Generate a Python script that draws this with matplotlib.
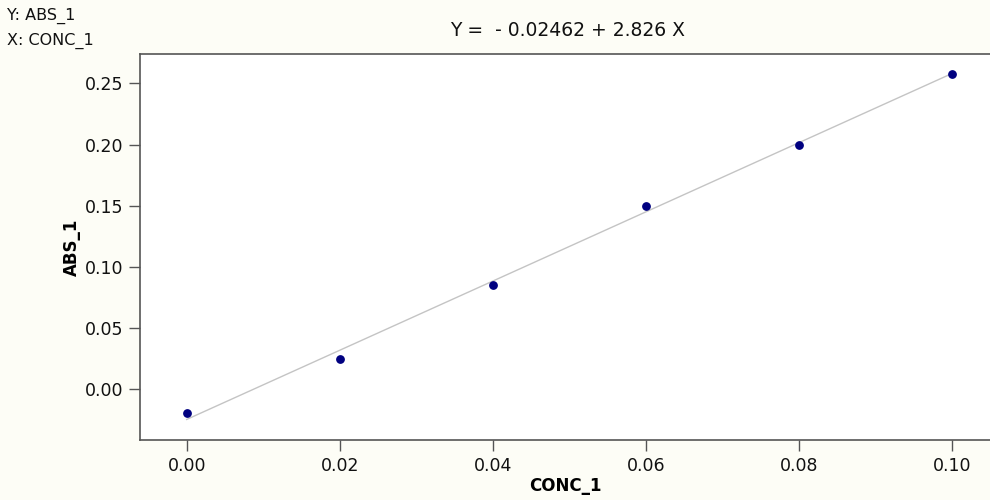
import numpy as np
import matplotlib
matplotlib.use("Agg")
import matplotlib.pyplot as plt

# data
conc = [0.00, 0.02, 0.04, 0.06, 0.08, 0.10]
absorb = [-0.019, 0.025, 0.085, 0.150, 0.200, 0.258]
intercept = -0.02462
slope = 2.826

plt.rcParams['font.family'] = ['DejaVu Sans']

fig = plt.figure(figsize=(9.9, 5.0), dpi=100, facecolor='#fdfdf6')
ax = fig.add_axes([0.1414, 0.12, 0.8586, 0.772])
ax.set_facecolor('white')

xs = np.array([conc[0], conc[-1]])
ax.plot(xs, intercept + slope * xs, color='#c4c4c4', lw=1.0, zorder=1)
ax.scatter(conc, absorb, s=28, color='#000080', zorder=2)

ax.set_xlim(-0.0061, 0.105)
ax.set_ylim(-0.0414, 0.274)
ax.set_xticks([0.00, 0.02, 0.04, 0.06, 0.08, 0.10])
ax.set_yticks([0.00, 0.05, 0.10, 0.15, 0.20, 0.25])
ax.xaxis.set_major_formatter(matplotlib.ticker.FormatStrFormatter('%.2f'))
ax.yaxis.set_major_formatter(matplotlib.ticker.FormatStrFormatter('%.2f'))

for side in ['left', 'top', 'bottom']:
    ax.spines[side].set_color('#555555')
    ax.spines[side].set_linewidth(1.2)
ax.spines['right'].set_visible(False)
ax.tick_params(direction='out', length=8, width=1, color='#555555',
               labelsize=12.5, labelcolor='#111111', pad=4)

ax.set_xlabel('CONC_1', fontsize=12, fontweight='bold', labelpad=2)
ax.set_ylabel('ABS_1', fontsize=12, fontweight='bold', labelpad=3)

fig.text(0.573, 0.94, 'Y =  - 0.02462 + 2.826 X', ha='center', va='center',
         fontsize=13.5, color='#111111')
fig.text(0.007, 0.968, 'Y: ABS_1', ha='left', va='center', fontsize=11.5, color='#111111')
fig.text(0.007, 0.918, 'X: CONC_1', ha='left', va='center', fontsize=11.5, color='#111111')

fig.savefig('out.png', dpi=100, facecolor=fig.get_facecolor())
